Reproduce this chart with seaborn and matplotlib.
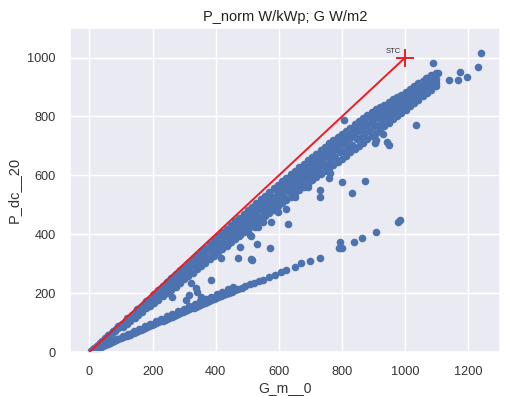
import numpy as np
import pandas as pd
import matplotlib
matplotlib.use("Agg")
import matplotlib.pyplot as plt
import seaborn as sns

# ---- data (G_m__0 in W/m2, P_dc__20 in W/kWp) ----
# dense main band, low-irradiance part
low_band_g = [4, 8, 12, 16, 20, 24, 28, 33, 37, 41, 45, 50, 54, 58, 63, 67, 71, 76, 80, 85,
              89, 94, 98, 103, 108, 112, 117, 122, 126, 131, 136, 141, 146, 151, 156, 161, 166,
              171, 176, 181, 186, 191, 196,
              105, 118, 130, 143, 155, 168, 180, 193,
              60, 90, 120, 150, 180, 200]
low_band_p = [3, 7, 11, 14, 18, 22, 25, 30, 34, 37, 41, 46, 49, 53, 58, 61, 65, 70, 73, 78,
              82, 86, 90, 94, 99, 103, 107, 112, 115, 120, 125, 129, 134, 138, 143, 147, 152,
              156, 161, 166, 170, 175, 180,
              85, 96, 106, 117, 127, 137, 148, 158,
              58, 88, 117, 146, 175, 195]

# dense main band, G > 200: irradiance and rows across the band (upper -> lower)
band_g = [205, 218, 232, 246, 259, 273, 286, 300, 313, 327, 340, 354, 367, 381, 394, 408,
          421, 435, 448, 462, 475, 489, 502, 516, 529, 543, 556, 570, 583, 597, 610, 624,
          637, 651, 664, 678, 691, 705, 718, 732, 745, 759, 772, 786, 799, 813, 826, 840,
          853, 867, 880, 894, 907, 921, 934, 948, 961, 975, 988, 1002, 1015, 1029, 1042,
          1056, 1069, 1083, 1096]
band_up = [198, 211, 224, 238, 250, 264, 277, 290, 302, 316, 329, 342, 355, 368, 380, 394,
           406, 419, 431, 444, 456, 469, 481, 494, 506, 519, 531, 544, 556, 568, 580, 592,
           604, 616, 628, 640, 651, 663, 674, 686, 697, 709, 719, 731, 741, 752, 762, 774,
           784, 795, 805, 816, 826, 832, 840, 850, 858, 866, 874, 882, 892, 902, 912,
           922, 932, 940, 948]
band_mid = [184, 196, 208, 222, 233, 246, 259, 271, 283, 295, 308, 320, 331, 345, 356, 369,
            380, 393, 405, 417, 429, 440, 453, 465, 476, 489, 500, 512, 523, 536, 547, 559,
            570, 582, 593, 605, 616, 628, 638, 650, 661, 673, 683, 695, 705, 717, 727, 739,
            749, 761, 772, 783, 794, 800, 810, 820, 829, 838, 846, 855, 865, 876, 888,
            898, 908, 918, 928]
band_low = [166, 178, 190, 200, 212, 222, 236, 247, 259, 270, 281, 293, 304, 316, 327, 339,
            350, 361, 372, 384, 394, 406, 416, 428, 439, 450, 461, 473, 484, 495, 506, 517,
            528, 540, 550, 561, 571, 583, 593, 604, 614, 625, 635, 646, 656, 667, 678, 689,
            700, 711, 722, 734, 745, 756, 767, 779, 790, 801, 812, 823, 834, 846, 857,
            868, 879, 890, 902]

# staggered irradiance values and the in-between rows of the band
band2_g = [211, 225, 239, 252, 266, 279, 293, 306, 320, 333, 347, 360, 374, 387, 401, 414,
           428, 441, 455, 468, 482, 495, 509, 522, 536, 549, 563, 576, 590, 603, 617, 630,
           644, 657, 671, 684, 698, 711, 725, 738, 752, 765, 779, 792, 806, 819, 833, 846,
           860, 873, 887, 900, 914, 927, 941, 954, 968, 981, 995, 1008, 1022, 1035, 1049,
           1062, 1076, 1089]
band2_upmid = [199, 208, 225, 234, 250, 259, 276, 285, 301, 310, 327, 335, 352, 360, 377, 385,
               402, 410, 426, 434, 451, 459, 475, 483, 500, 508, 524, 531, 549, 555, 572, 579,
               596, 602, 619, 625, 643, 648, 665, 671, 688, 693, 710, 715, 732, 737, 753, 758,
               775, 780, 797, 802, 816, 822, 834, 840, 850, 856, 866, 874, 886, 894, 906,
               914, 926, 934]
band2_midlow = [177, 196, 201, 220, 224, 244, 249, 268, 273, 291, 296, 315, 320, 339, 344, 363,
                367, 386, 390, 409, 413, 432, 436, 455, 459, 478, 482, 501, 505, 524, 528, 547,
                551, 569, 573, 591, 596, 613, 617, 635, 639, 657, 661, 679, 682, 700, 704, 722,
                726, 745, 749, 767, 771, 789, 794, 812, 816, 833, 837, 855, 859, 877, 880,
                897, 900, 917]

# lower branch
lower_g = [6, 12, 18, 24, 30, 36, 42, 48, 54, 60, 66, 72, 78, 85, 92, 99, 106, 113, 120, 127,
           134, 141, 148, 155, 162, 169, 176, 183, 190, 197, 204, 211, 218, 225, 232, 239,
           246, 253, 260, 267, 274, 281, 288, 295, 302, 309, 316, 323, 330, 337, 344, 351,
           358, 365, 372, 379, 386, 393, 400, 408, 416, 424, 432, 441, 450, 460, 470, 482,
           494, 508, 522, 536, 550, 568, 587, 606, 622, 650, 669, 697, 731, 790, 794, 800,
           837, 862, 909, 978, 984]
lower_p = [3, 6, 9, 12, 15, 17, 20, 23, 26, 29, 32, 35, 37, 40, 44, 47, 50, 53, 56, 59,
           63, 66, 69, 72, 75, 78, 82, 85, 88, 91, 94, 98, 101, 104, 107, 110,
           113, 116, 120, 123, 126, 129, 132, 135, 139, 142, 145, 148, 151, 154, 158, 161,
           164, 167, 170, 173, 177, 180, 183, 186, 190, 193, 197, 201, 205, 209, 214, 219,
           224, 230, 236, 242, 246, 255, 262, 272, 279, 289, 303, 310, 320, 354, 374, 354,
           374, 388, 408, 442, 448]
lower2_g = [40, 55, 70, 88, 105, 122, 140, 158, 175, 193, 210, 228, 245, 263, 280, 298, 315,
            333, 350, 368, 385, 403, 420, 438, 455]
lower2_p = [22, 29, 36, 45, 54, 62, 71, 79, 88, 96, 105, 113, 121, 130, 138, 147, 155,
            163, 172, 180, 188, 196, 204, 213, 221]

# scattered points between / around the branches
scat_g = [262, 306, 316, 337, 340, 353, 384, 322, 416, 441, 472, 478, 478, 509, 516, 531,
          534, 572, 513, 513, 622, 628, 597, 550, 650, 691, 731, 731, 759, 762, 800, 831,
          872, 903, 941, 950, 931, 909, 806, 1034, 1087, 1103, 1097, 1138, 1166, 1175, 1197,
          1231, 1241, 1066, 1034, 525, 575]
scat_p = [187, 177, 194, 218, 204, 187, 245, 235, 320, 371, 320, 357, 398, 398, 313, 367,
          425, 354, 394, 316, 486, 435, 476, 442, 527, 561, 551, 527, 592, 609, 578, 541,
          582, 711, 714, 704, 741, 721, 789, 772, 983, 949, 915, 925, 925, 952, 935,
          969, 1017, 932, 901, 425, 442]

# reference line to STC point
stc_g = [0, 1000]
stc_p = [0, 1000]

g_all = (low_band_g + band_g * 3 + band2_g * 2 + lower_g + lower2_g + scat_g)
p_all = (low_band_p + band_up + band_mid + band_low + band2_upmid + band2_midlow
         + lower_p + lower2_p + scat_p)
df = pd.DataFrame({"G_m__0": g_all, "P_dc__20": p_all})

sns.set_theme(style="darkgrid")
plt.rcParams["font.family"] = ["Liberation Sans", "DejaVu Sans"]
fig = plt.figure(figsize=(5.06, 3.96), dpi=100)
ax = fig.add_axes([0.138, 0.111, 0.850, 0.818])

sns.scatterplot(data=df, x="G_m__0", y="P_dc__20", ax=ax, s=30, linewidth=0,
                color="#4c72b0", zorder=2)
ax.plot(stc_g, stc_p, color="#ee1c25", lw=1.4, zorder=3)
ax.plot([stc_g[1]], [stc_p[1]], marker="+", color="#ee1c25", ms=13, mew=1.4, zorder=4)
ax.text(stc_g[1] - 15, stc_p[1] + 8, "STC", fontsize=5.5, ha="right", va="bottom", color="#333333")

ax.set_xlim(-62, 1300)
ax.set_ylim(0, 1100)
ax.set_xticks([0, 200, 400, 600, 800, 1000, 1200])
ax.set_yticks([0, 200, 400, 600, 800, 1000])
ax.tick_params(labelsize=9.2, colors="#333333", pad=4)
ax.set_xlabel("G_m__0", fontsize=10, color="#333333", labelpad=2)
ax.set_ylabel("P_dc__20", fontsize=10.5, color="#333333", labelpad=5)
ax.set_title("P_norm W/kWp; G W/m2", fontsize=10.5, color="#222222", pad=5)

fig.savefig("out.png", dpi=100)
